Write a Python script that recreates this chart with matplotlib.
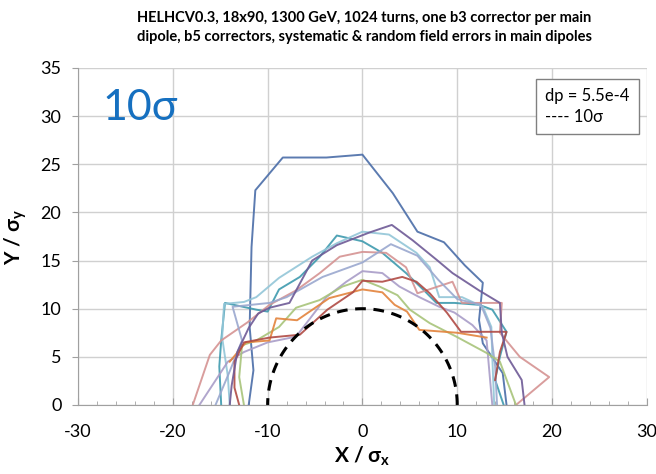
import numpy as np
import matplotlib.pyplot as plt
from matplotlib import ticker

plt.rcParams['font.family'] = ['Lato', 'DejaVu Sans']
plt.rcParams['axes.unicode_minus'] = False
plt.rcParams['mathtext.fontset'] = 'custom'
plt.rcParams['mathtext.rm'] = 'Lato'
plt.rcParams['mathtext.it'] = 'Lato:italic'
plt.rcParams['mathtext.bf'] = 'Lato:bold'

# dynamic aperture traces, one per seed
blue_x = [-12.0, -11.5, -11.9, -11.7, -11.3, -8.4, -3.8, 0.0, 3.2, 5.8, 8.6, 10.8, 12.7, 12.3, 12.7, 14.8, 15.2]
blue_y = [0, 3.6, 8.1, 16.4, 22.3, 25.7, 25.7, 26.0, 22.0, 18.0, 16.9, 14.5, 12.7, 8.8, 6.4, 3.3, 0]

teal_x = [-14.9, -15.1, -14.9, -14.5, -11.2, -10.0, -8.8, -6.6, -4.5, -2.7, 0.0, 2.1, 4.6, 6.5, 7.8, 9.7, 12.3, 13.7, 15.2, 14.5, 14.0, 14.9]
teal_y = [0, 4.0, 6.7, 10.6, 9.9, 9.7, 12.0, 13.3, 15.4, 17.6, 17.0, 15.8, 13.7, 11.9, 10.6, 10.6, 10.4, 9.9, 7.6, 5.0, 2.6, 0]

aqua_x = [-14.0, -14.2, -14.8, -14.6, -12.5, -11.2, -8.8, -5.3, -2.7, 0.0, 2.8, 5.7, 7.1, 8.1, 10.5, 12.7, 13.6, 13.7, 13.9]
aqua_y = [0, 3.0, 7.0, 10.5, 10.7, 11.2, 13.2, 15.4, 16.8, 18.0, 17.7, 15.8, 14.3, 11.2, 11.2, 10.2, 8.1, 5.0, 0]

pink_x = [-17.9, -16.1, -14.9, -12.1, -9.8, -7.0, -4.5, -2.4, 0.0, 2.5, 4.6, 5.8, 9.5, 10.5, 14.7, 14.5, 16.6, 19.7, 16.2]
pink_y = [0, 5.2, 6.7, 8.6, 10.4, 11.9, 13.7, 15.4, 15.9, 15.8, 14.3, 11.6, 12.8, 10.6, 10.6, 7.5, 5.0, 2.9, 0]

lav_x = [-17.2, -14.2, -12.5, -10.0, -7.0, -3.8, -1.7, 0.0, 2.1, 3.9, 6.0, 8.1, 9.7, 11.6, 13.1, 13.7]
lav_y = [0, 4.5, 5.5, 6.5, 7.1, 11.2, 12.8, 13.9, 13.7, 12.3, 11.2, 10.2, 9.6, 8.3, 6.7, 0]

lilac_x = [-15.5, -14.0, -12.7, -13.7, -9.8, -8.0, -4.2, 0.0, 3.0, 5.8, 8.0, 10.0, 12.5, 13.5, 14.0, 14.2]
lilac_y = [0, 3.5, 6.7, 10.2, 10.6, 11.2, 13.3, 14.8, 16.7, 15.5, 13.0, 11.0, 10.4, 8.0, 4.0, 0]

green_x = [-12.5, -13.0, -12.7, -11.2, -8.8, -7.0, -4.5, -2.1, 0.0, 1.8, 3.7, 5.0, 7.1, 9.9, 13.1, 14.5, 16.2]
green_y = [0, 2.9, 6.2, 6.7, 8.1, 10.1, 10.9, 12.3, 13.0, 12.3, 11.4, 9.9, 8.5, 7.1, 5.4, 4.5, 0]

orange_x = [-14.0, -12.3, -9.8, -9.1, -6.9, -3.5, 0.0, 2.1, 3.4, 4.7, 6.0, 10.0, 13.1]
orange_y = [4.5, 6.5, 6.7, 9.0, 8.8, 11.1, 12.0, 11.7, 10.4, 9.7, 7.8, 7.5, 7.0]

red_x = [-13.0, -13.5, -13.5, -12.5, -9.8, -6.6, -3.7, -1.0, 0.0, 2.1, 4.2, 5.7, 7.1, 8.9, 10.4, 15.2, 14.5, 14.0]
red_y = [0, 1.8, 4.5, 6.5, 7.0, 7.3, 9.9, 11.7, 12.9, 12.8, 13.3, 12.8, 11.6, 9.6, 7.6, 7.6, 5.5, 2.6]

purple_x = [-14.0, -13.8, -13.2, -12.0, -11.0, -9.8, -7.7, -5.3, -2.7, 0.7, 3.1, 5.3, 7.8, 9.5, 12.3, 14.5, 14.7, 15.3, 16.8, 17.1]
purple_y = [0, 2.0, 5.5, 8.0, 9.5, 10.1, 10.6, 15.0, 16.6, 17.9, 18.7, 17.1, 15.1, 13.7, 11.9, 10.6, 7.5, 5.0, 2.6, 0]

series = [
    (blue_x, blue_y, '#4A6DA8'),
    (teal_x, teal_y, '#3E9AAE'),
    (aqua_x, aqua_y, '#93C6D8'),
    (pink_x, pink_y, '#D59392'),
    (lav_x, lav_y, '#A99DC8'),
    (lilac_x, lilac_y, '#9AA8CF'),
    (green_x, green_y, '#A8C47A'),
    (orange_x, orange_y, '#E3833C'),
    (red_x, red_y, '#B04A44'),
    (purple_x, purple_y, '#6E5A96'),
]

ref_radius = 10

fig = plt.figure(figsize=(6.56, 4.74), dpi=100)
ax = fig.add_axes([0.119, 0.1456, 0.867, 0.711])

for xs, ys, c in series:
    ax.plot(xs, ys, color=c, lw=1.4, alpha=0.9)

theta = np.linspace(0, np.pi, 100)
ax.plot(ref_radius * np.cos(theta), ref_radius * np.sin(theta), color='black', lw=2.2, ls=(0, (3.5, 2.5)))

ax.set_xlim(-30, 30)
ax.set_ylim(0, 35)
ax.xaxis.set_major_locator(ticker.MultipleLocator(10))
ax.xaxis.set_minor_locator(ticker.MultipleLocator(2))
ax.yaxis.set_major_locator(ticker.MultipleLocator(5))
ax.grid(True, which='major', color='#D0D0D0', lw=1.0)
ax.set_axisbelow(True)
for s in ['top', 'right']:
    ax.spines[s].set_visible(False)
for s in ['left', 'bottom']:
    ax.spines[s].set_color('#A0A0A0')
ax.tick_params(axis='x', which='both', direction='in', color='#A0A0A0')
ax.tick_params(axis='x', which='major', length=5, pad=14)
ax.tick_params(axis='x', which='minor', length=3)
ax.tick_params(axis='y', length=4, color='#A0A0A0', pad=8)
ax.tick_params(labelsize=13)

ax.set_xlabel(r'X / σ$_\mathbf{x}$', fontsize=15, fontweight='bold', labelpad=3)
ax.set_ylabel(r'Y / σ$_\mathbf{y}$', fontsize=15, fontweight='bold', labelpad=8)

fig.text(0.555, 0.977, 'HELHCV0.3, 18x90, 1300 GeV, 1024 turns, one b3 corrector per main\n'
         'dipole, b5 correctors, systematic & random field errors in main dipoles',
         ha='center', va='top', fontsize=10.5, fontweight='bold', linespacing=1.45)

ax.text(-27.4, 30.8, '10σ', color='#1670C0', fontsize=31, va='center', ha='left')
ax.text(19.3, 31.0, 'dp = 5.5e-4\n---- 10σ', fontsize=12, va='center', ha='left', linespacing=1.35,
        bbox=dict(boxstyle='square,pad=0.55', fc='white', ec='#808080', lw=1))

fig.savefig('out.png', dpi=100)
